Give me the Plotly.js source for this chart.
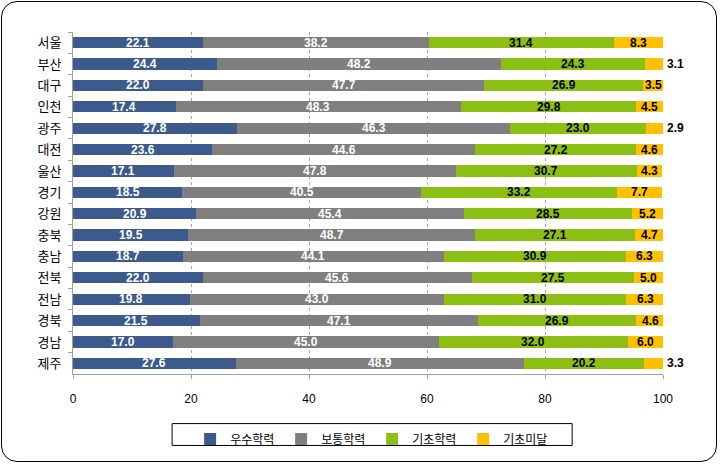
<!DOCTYPE html>
<html>
<head>
<meta charset="utf-8">
<script src="https://cdn.plot.ly/plotly-3.0.1.min.js"></script>
<style>
html,body{margin:0;padding:0;background:#fff;}
#wrap{position:relative;width:722px;height:466px;}
#chart{width:722px;height:466px;}
#frame{position:absolute;left:1px;top:1px;width:714px;height:459px;border:1.5px solid #000;border-radius:16px;pointer-events:none;}
</style>
</head>
<body>
<div id="wrap"><div id="chart"></div><div id="frame"></div></div>
<script>
const regions = ['서울','부산','대구','인천','광주','대전','울산','경기','강원','충북','충남','전북','전남','경북','경남','제주'];
const seriesNames = ['우수학력','보통학력','기초학력','기초미달'];
const excellent = [22.1,24.4,22.0,17.4,27.8,23.6,17.1,18.5,20.9,19.5,18.7,22.0,19.8,21.5,17.0,27.6];
const average   = [38.2,48.2,47.7,48.3,46.3,44.6,47.8,40.5,45.4,48.7,44.1,45.6,43.0,47.1,45.0,48.9];
const basic     = [31.4,24.3,26.9,29.8,23.0,27.2,30.7,33.2,28.5,27.1,30.9,27.5,31.0,26.9,32.0,20.2];
const belowBasic= [8.3,3.1,3.5,4.5,2.9,4.6,4.3,7.7,5.2,4.7,6.3,5.0,6.3,4.6,6.0,3.3];
const xTicks = [0,20,40,60,80,100];

const colors = ['#3D5A8C','#7F7F7F','#8DBE14','#FFC000'];
const textColors = ['#ffffff','#ffffff','#000000','#000000'];
const allSeries = [excellent, average, basic, belowBasic];

const traces = allSeries.map((vals, i) => ({
  type: 'bar',
  orientation: 'h',
  name: seriesNames[i],
  y: regions,
  x: vals,
  textposition: 'none',
  marker: {color: colors[i], line: {width: 0}},
  hoverinfo: 'skip'
}));

// data labels computed from the data through the axes
const annotations = [];
const labelFont = 'Liberation Sans, Arial, sans-serif';
regions.forEach((r, j) => {
  let start = 0;
  allSeries.forEach((vals, i) => {
    const v = vals[j];
    const outside = (i === 3 && v < 3.5);
    annotations.push({
      xref: 'x', yref: 'y',
      x: outside ? start + v : start + v / 2,
      y: r,
      text: v.toFixed(1),
      showarrow: false,
      xanchor: outside ? 'left' : 'center',
      xshift: outside ? 2 : 0,
      font: {family: labelFont, size: 12, color: outside ? '#000' : textColors[i], weight: 'bold'}
    });
    start += v;
  });
});

const layout = {
  width: 722, height: 466,
  margin: {l: 73, r: 59, t: 32, b: 89},
  barmode: 'stack',
  bargap: 0.47,
  paper_bgcolor: '#ffffff',
  plot_bgcolor: '#ffffff',
  font: {family: 'Noto Sans CJK KR, DejaVu Sans, sans-serif', size: 12, color: '#000'},
  showlegend: true,
  legend: {
    orientation: 'h',
    x: 0.507, xanchor: 'center',
    y: -0.148, yanchor: 'top',
    borderwidth: 0,
    bgcolor: 'rgba(0,0,0,0)',
    font: {family: 'Noto Sans CJK KR, sans-serif', size: 12, color: '#000'},
    itemwidth: 30,
    entrywidth: 46, entrywidthmode: 'pixels',
    traceorder: 'normal'
  },
  shapes: [{
    type: 'rect', xref: 'paper', yref: 'paper',
    x0: 0.168, x1: 0.846, y0: -0.145, y1: -0.209,
    line: {color: '#000', width: 1}, fillcolor: 'rgba(0,0,0,0)'
  }],
  annotations: annotations,
  xaxis: {
    range: [0, 100],
    tickvals: xTicks,
    ticktext: xTicks.map(String),
    showgrid: true,
    gridcolor: '#A6A6A6',
    griddash: '3px,3px',
    gridwidth: 1,
    zeroline: false,
    showline: true,
    linecolor: '#A0A0A0',
    linewidth: 1,
    ticks: 'outside',
    ticklen: 4,
    tickcolor: '#A0A0A0',
    ticklabelstandoff: 10,
    tickfont: {family: 'Liberation Sans, Arial, sans-serif', size: 12, color: '#000'},
    fixedrange: true
  },
  yaxis: {
    type: 'category',
    autorange: 'reversed',
    showline: true,
    linecolor: '#A0A0A0',
    linewidth: 1,
    ticks: 'outside',
    tickson: 'boundaries',
    ticklen: 4,
    tickcolor: '#A0A0A0',
    ticklabelstandoff: 8,
    showgrid: false,
    tickfont: {family: 'Noto Sans CJK KR, sans-serif', size: 13, color: '#000'},
    fixedrange: true
  }
};

Plotly.newPlot('chart', traces, layout, {displayModeBar: false, staticPlot: true});
</script>
</body>
</html>
